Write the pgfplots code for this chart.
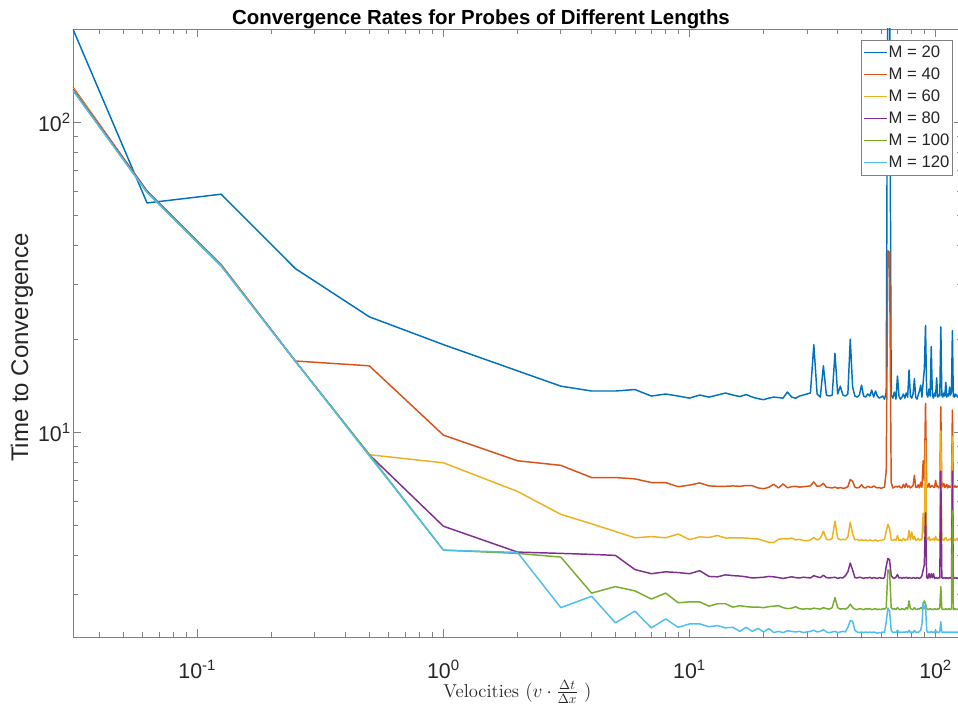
\documentclass[border=0pt]{standalone}
\usepackage{pgfplots}
\pgfplotsset{compat=1.18}
\usepackage{pgfplotstable}
\usepackage{fontspec}
\setsansfont{Liberation Sans}

\definecolor{c1}{rgb}{0,0.447,0.741}
\definecolor{c2}{rgb}{0.850,0.325,0.098}
\definecolor{c3}{rgb}{0.929,0.694,0.125}
\definecolor{c4}{rgb}{0.494,0.184,0.556}
\definecolor{c5}{rgb}{0.466,0.674,0.188}
\definecolor{c6}{rgb}{0.301,0.745,0.933}
\definecolor{axgray}{gray}{0.5}
\definecolor{txt}{gray}{0.15}

% time to convergence for each probe length M
\pgfplotstableread{
x m20 m40 m60 m80 m100 m120
0.03125 200 130 129 128 127 127
0.0625 55 60 60 60 59.5 59.5
0.125 58.7 34.8 34.7 34.6 34.5 34.4
0.25 33.8 17.0 17 17 17 17
0.5 23.6 16.4 8.47 8.47 8.47 8.4
1 19.2 9.8 7.98 4.98 4.17 4.17
2 15.8 8.1 6.45 4.11 4.07 4.10
3 14.1 7.83 5.44 4.07 3.96 2.72
4 13.6 7.15 5.07 4.04 3.03 2.96
5 13.6 7.15 4.79 4.01 3.18 2.43
6 13.75 7.08 4.57 3.61 3.08 2.65
7 13.1 6.89 4.61 3.50 2.90 2.34
8 13.3 6.89 4.57 3.55 3.03 2.50
9 13.1 6.68 4.70 3.53 2.82 2.35
10 12.9 6.76 4.51 3.50 2.84 2.41
11 13.2 6.87 4.60 3.58 2.84 2.41
12 13.0 6.72 4.58 3.43 2.75 2.36
13 13.2 6.70 4.65 3.42 2.80 2.38
14 13.4 6.70 4.56 3.47 2.80 2.34
15 13.2 6.72 4.57 3.45 2.73 2.35
16 13.05 6.70 4.57 3.44 2.76 2.28
17 13.25 6.74 4.56 3.42 2.74 2.35
18 13.0 6.73 4.54 3.39 2.73 2.28
19 12.85 6.62 4.53 3.40 2.73 2.33
20 12.75 6.58 4.47 3.41 2.72 2.27
21 12.9 6.65 4.42 3.43 2.74 2.33
22 13.0 6.80 4.41 3.42 2.75 2.26
23 12.95 6.62 4.52 3.40 2.76 2.28
24 12.9 6.82 4.54 3.38 2.72 2.26
25 13.5 6.63 4.53 3.40 2.70 2.29
26 13.0 6.68 4.56 3.42 2.71 2.28
27 12.9 6.70 4.50 3.40 2.74 2.27
28 13.1 6.66 4.52 3.39 2.70 2.28
29 13.2 6.68 4.48 3.41 2.69 2.26
30 13.3 6.70 4.47 3.40 2.70 2.27
31 13.4 6.72 4.50 3.39 2.69 2.28
32 19.2 6.92 4.58 3.45 2.71 2.30
33 13.3 6.70 4.50 3.42 2.70 2.27
34 13.0 6.72 4.55 3.40 2.69 2.28
35 16.4 6.85 4.80 3.46 2.72 2.31
36 13.2 6.65 4.52 3.40 2.70 2.27
37 13.1 6.64 4.50 3.39 2.69 2.26
38 13.2 6.62 4.55 3.40 2.72 2.27
39 18.0 6.66 5.17 3.41 2.93 2.28
40 13.3 6.60 4.55 3.38 2.72 2.26
41 14.1 6.64 4.50 3.40 2.69 2.27
42 13.2 6.60 4.52 3.39 2.70 2.28
43 13.1 6.62 4.50 3.45 2.69 2.27
44 13.3 6.68 4.60 3.55 2.72 2.35
45 20.0 7.05 5.13 3.79 2.79 2.47
46 14.0 6.95 4.70 3.60 2.72 2.46
47 13.1 6.66 4.50 3.40 2.69 2.30
48 13.0 6.62 4.52 3.39 2.68 2.27
49 13.2 6.65 4.48 3.41 2.70 2.26
50 14.2 6.78 4.50 3.40 2.69 2.27
51 13.1 6.64 4.48 3.38 2.68 2.26
52 13.0 6.62 4.50 3.40 2.70 2.27
53 13.3 6.70 4.47 3.39 2.69 2.26
54 13.1 6.66 4.50 3.41 2.70 2.27
55 13.7 6.64 4.48 3.38 2.68 2.26
56 13.0 6.72 4.47 3.40 2.69 2.27
57 13.6 6.66 4.50 3.39 2.70 2.26
58 13.1 6.62 4.46 3.38 2.68 2.25
59 12.9 6.64 4.48 3.40 2.69 2.26
60 13.0 6.60 4.47 3.39 2.68 2.26
61 13.1 6.63 4.50 3.38 2.70 2.27
62 12.8 6.66 4.52 3.40 2.69 2.26
63 13.5 7.5 4.80 3.70 2.72 2.45
64 400 38.6 5.05 3.92 3.60 2.71
65 300 38.0 4.90 3.88 3.58 2.65
66 13.2 6.9 4.50 3.45 2.72 2.30
67 12.9 6.62 4.48 3.40 2.69 2.26
68 13.5 6.65 4.52 3.38 2.70 2.27
69 12.8 6.70 4.48 3.41 2.68 2.26
70 15.2 6.66 4.65 3.48 2.72 2.30
71 13.1 6.72 4.48 3.39 2.69 2.26
72 12.8 6.64 4.50 3.40 2.68 2.27
73 13.0 6.62 4.47 3.38 2.70 2.26
74 13.3 6.80 4.55 3.40 2.69 2.27
75 12.9 6.64 4.48 3.39 2.68 2.26
76 13.4 6.85 4.52 3.41 2.72 2.28
77 13.0 6.66 4.50 3.38 2.69 2.26
78 15.9 6.72 4.82 3.40 2.86 2.30
79 13.1 6.62 4.50 3.39 2.70 2.26
80 12.9 6.68 4.77 3.38 2.69 2.27
81 13.3 6.74 4.52 3.40 2.68 2.26
82 14.9 7.27 4.62 3.39 2.72 2.30
83 13.0 6.66 4.48 3.38 2.69 2.26
84 12.8 6.64 4.50 3.40 2.68 2.27
85 13.2 6.78 4.55 3.39 2.70 2.26
86 13.6 6.62 4.48 3.38 2.69 2.28
87 14.2 6.90 4.52 3.40 2.72 2.30
88 13.0 6.65 4.50 3.45 2.70 2.40
89 14.5 8.1 5.48 3.60 2.80 2.83
90 16.0 7.0 4.70 3.75 2.86 2.70
91 22.1 12.4 9.4 5.5 2.80 2.75
92 13.3 6.72 4.55 3.40 2.70 2.30
93 13.0 6.66 4.50 3.38 2.68 2.26
94 13.8 6.85 4.60 3.50 2.69 2.27
95 13.1 6.64 4.48 3.39 2.70 2.26
96 18.9 6.70 4.52 3.50 2.68 2.28
97 13.2 6.74 4.50 3.40 2.69 2.26
98 12.9 6.66 4.55 3.50 2.68 2.27
99 13.4 6.64 4.48 3.38 2.70 2.26
100 13.1 7.0 4.62 3.40 2.69 2.30
101 15.0 6.68 4.50 3.39 2.68 2.26
102 13.0 6.72 4.52 3.38 2.70 2.27
103 13.2 6.62 4.48 3.40 2.69 2.26
104 13.1 6.70 4.55 3.39 2.72 2.28
105 21.9 12.1 10.1 7.5 3.18 2.45
106 13.2 6.66 4.50 3.40 2.70 2.27
107 13.0 6.72 4.52 3.38 2.68 2.26
108 13.4 6.85 4.48 3.39 2.69 2.27
109 13.1 6.64 4.55 3.40 2.68 2.26
110 14.5 6.70 4.58 3.38 2.70 2.27
111 13.0 6.80 4.50 3.40 2.69 2.26
112 13.3 6.62 4.48 3.39 2.68 2.27
113 13.1 6.74 4.52 3.38 2.70 2.26
114 14.0 6.66 4.50 3.40 2.69 2.27
115 13.2 6.70 4.55 3.39 2.68 2.26
116 13.5 6.62 4.48 3.38 2.70 2.27
117 21.3 11.8 9.7 7.5 5.6 2.26
118 13.1 6.70 4.50 3.40 2.68 2.27
119 13.0 6.66 4.52 3.38 2.69 2.26
120 13.3 6.72 4.48 3.39 2.70 2.27
121 13.1 6.64 4.50 3.40 2.68 2.26
122 13.2 6.70 4.55 3.38 2.69 2.27
123 13.0 6.68 4.50 3.39 2.68 2.26
124 13.1 6.64 4.48 3.40 2.70 2.27
125 13.3 6.72 4.52 3.38 2.69 2.26
126 13.0 6.66 4.50 3.39 2.68 2.27
127 13.1 6.68 4.48 3.40 2.69 2.26
128 13.2 6.70 4.50 3.38 2.68 2.27
}\conv

\begin{document}
\begin{tikzpicture}
\begin{axis}[
  at={(0pt,0pt)}, anchor=south west,
  scale only axis, width=666.75pt, height=456pt,
  xmode=log, ymode=log,
  xmin=0.03125, xmax=128, ymin=2.187, ymax=200.3,
  axis line style={axgray, line width=0.6pt},
  tick style={axgray, line width=0.6pt},
  major tick length=6pt, minor tick length=3.75pt,
  tick align=inside,
  xtick={0.1,1,10,100},
  xticklabels={10\textsuperscript{-1},10\textsuperscript{0},10\textsuperscript{1},10\textsuperscript{2}},
  minor xtick={0.04,0.05,0.06,0.07,0.08,0.09,0.2,0.3,0.4,0.5,0.6,0.7,0.8,0.9,2,3,4,5,6,7,8,9,20,30,40,50,60,70,80,90},
  ytick={10,100},
  yticklabels={10\textsuperscript{1},10\textsuperscript{2}},
  minor ytick={3,4,5,6,7,8,9,20,30,40,50,60,70,80,90,200},
  ticklabel style={font=\sffamily\fontsize{16}{18}\selectfont, text=txt},
  xticklabel style={anchor=center, yshift=-24.5pt},
  yticklabel style={anchor=east, inner xsep=1.5pt},
  title={Convergence Rates for Probes of Different Lengths},
  title style={font=\sffamily\bfseries\fontsize{15.3}{18}\selectfont,
    at={(axis description cs:0.459,1)}, anchor=base, yshift=-3pt, inner sep=0pt},
  xlabel={Velocities $(v\cdot\frac{\Delta t}{\Delta x}\ )$},
  xlabel style={font=\fontsize{14}{17}\selectfont, text=txt,
    at={(axis description cs:0.5,-0.091)}, anchor=center},
  ylabel={Time to Convergence},
  ylabel style={font=\sffamily\fontsize{18}{21}\selectfont, text=txt,
    at={(axis description cs:-0.0574,0.476)}, anchor=center},
  legend style={at={(axis description cs:1,1)}, anchor=north east,
    xshift=-6.75pt, yshift=-8.25pt, draw=axgray, fill=white,
    font=\sffamily\fontsize{12.5}{15}\selectfont, text=txt,
    inner xsep=1.5pt, inner ysep=1pt, row sep=0pt,
    nodes={inner xsep=1pt, inner ysep=0.5pt, text height=11.5pt, text depth=4pt}},
  legend cell align=left,
  legend image code/.code={\draw[#1, line width=0.9pt] (0pt,0pt) -- (17pt,0pt);},
  every axis plot/.append style={line width=1.1pt, line join=round},
]
\addplot[c1] table[x=x, y=m20] {\conv};
\addlegendentry{M = 20}
\addplot[c2] table[x=x, y=m40] {\conv};
\addlegendentry{M = 40}
\addplot[c3] table[x=x, y=m60] {\conv};
\addlegendentry{M = 60}
\addplot[c4] table[x=x, y=m80] {\conv};
\addlegendentry{M = 80}
\addplot[c5] table[x=x, y=m100] {\conv};
\addlegendentry{M = 100}
\addplot[c6] table[x=x, y=m120] {\conv};
\addlegendentry{M = 120}
\end{axis}
\pgfresetboundingbox
\path[use as bounding box] (-54.75pt,-51.75pt) rectangle (663.75pt,477.75pt);
\end{tikzpicture}
\end{document}
